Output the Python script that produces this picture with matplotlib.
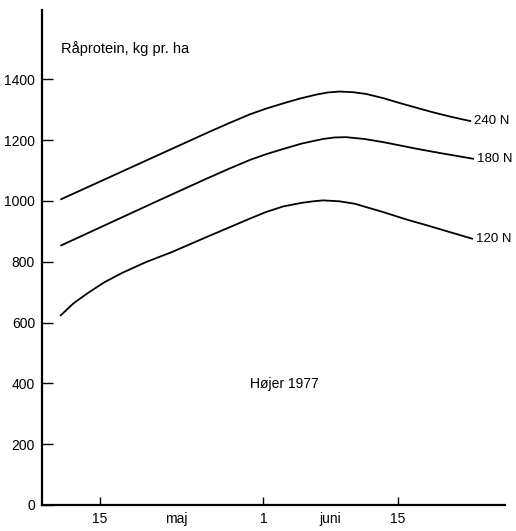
import matplotlib.pyplot as plt

plt.rcParams["font.family"] = ["Liberation Sans", "DejaVu Sans"]

# x = day counted from 1 May (1 June = 31)
days_240 = [10, 15, 20, 25, 27.5, 29.6, 31.3, 33.05, 34.8, 36.5, 37.7, 38.9, 40.3,
            41.7, 43.5, 45.2, 47, 48.6, 50.5, 52.5]
vals_240 = [1006, 1078, 1150, 1222, 1257, 1285, 1304, 1321, 1337, 1350, 1357, 1360, 1358,
            1352, 1338, 1322, 1306, 1292, 1277, 1263]

days_180 = [10, 15, 20, 25, 27.5, 29.6, 31.3, 33.05, 35, 37.2, 38.4, 39.6, 41.5,
            43.4, 45, 46.9, 49.5, 52.8]
vals_180 = [854, 927, 1000, 1072, 1107, 1135, 1154, 1171, 1189, 1204, 1209, 1210, 1204,
            1194, 1184, 1172, 1157, 1139]

days_120 = [9.95, 11.3, 12.8, 14.5, 16.3, 18.8, 21.5, 25, 29.6, 31.3, 33.05, 35,
            36.2, 37.2, 38.9, 40.5, 43.4, 46, 48.0, 52.7]
vals_120 = [624, 664, 698, 733, 763, 799, 832, 880, 942, 964, 982, 994,
            999, 1002, 999, 991, 964, 938, 920, 876]

series_labels = ["240 N", "180 N", "120 N"]

xtick_pos = [14, 31, 45]
xtick_labels = ["15", "1", "15"]
month_pos = [22, 38]
month_labels = ["maj", "juni"]

fig = plt.figure(figsize=(5.16, 5.31), dpi=100)
ax = fig.add_axes([0.0814, 0.049, 0.897, 0.932])

for d, v, lab in [(days_240, vals_240, series_labels[0]),
                  (days_180, vals_180, series_labels[1]),
                  (days_120, vals_120, series_labels[2])]:
    ax.plot(d, v, color="black", linewidth=1.3, solid_joinstyle="round")
    ax.text(d[-1] + 0.4, v[-1], lab, fontsize=9.5, va="center", ha="left")

ax.set_xlim(8, 56.1)
ax.set_ylim(0, 1628)

ax.set_yticks(range(0, 1401, 200))
ax.set_xticks(xtick_pos)
ax.set_xticklabels(xtick_labels)
ax.set_xticks(month_pos, minor=True)
ax.set_xticklabels(month_labels, minor=True)

ax.tick_params(axis="y", direction="in", length=8, width=1, labelsize=10, pad=5)
ax.tick_params(axis="x", which="major", direction="in", length=6, width=1,
               labelsize=10, pad=5)
ax.tick_params(axis="x", which="minor", length=0, labelsize=10, pad=5)

for side in ["top", "right"]:
    ax.spines[side].set_visible(False)
ax.spines["left"].set_linewidth(1.6)
ax.spines["bottom"].set_linewidth(1.6)

ax.text(10, 1502, "Råprotein, kg pr. ha", fontsize=10.5, va="center", ha="left")
ax.text(29.6, 398, "Højer 1977", fontsize=10, va="center", ha="left")

fig.savefig("out.png", dpi=100)
plt.close(fig)
